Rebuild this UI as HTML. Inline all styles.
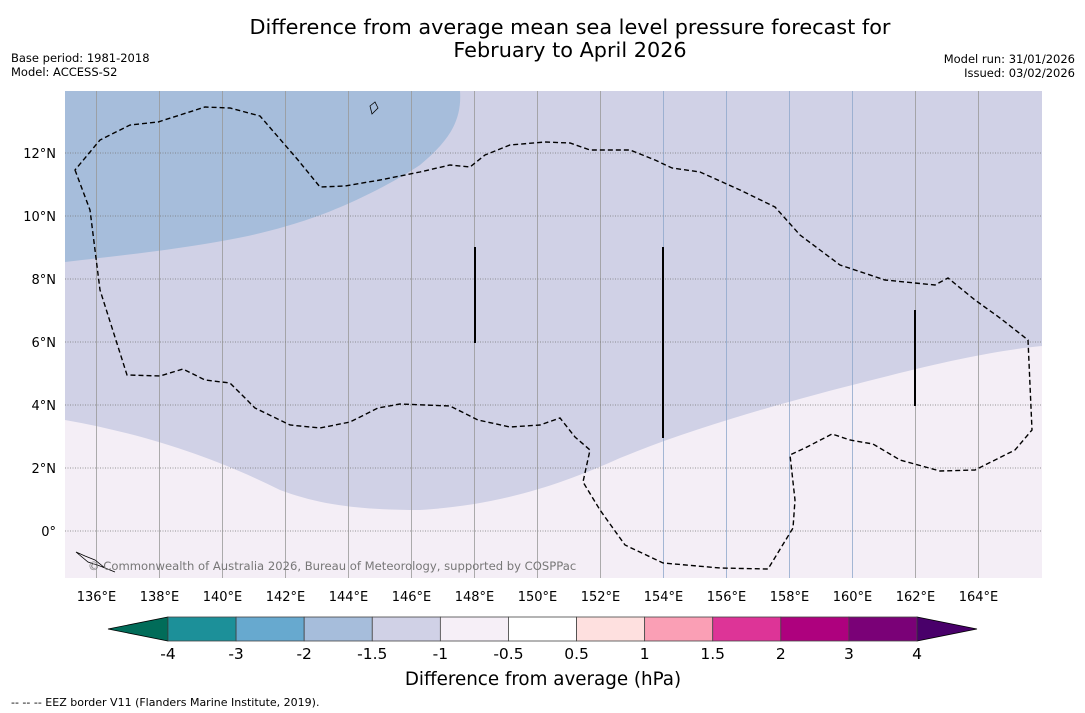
<!DOCTYPE html>
<html><head><meta charset="utf-8"><style>
body{margin:0;background:#fff;width:1085px;height:713px;overflow:hidden;font-family:"DejaVu Sans","Liberation Sans",sans-serif}
svg{position:absolute;left:0;top:0}
</style></head><body>
<svg width="1085" height="713" font-family="DejaVu Sans, Liberation Sans, sans-serif">
<text x="570" y="34" font-size="20.8" text-anchor="middle">Difference from average mean sea level pressure forecast for</text>
<text x="570" y="57" font-size="20.8" text-anchor="middle">February to April 2026</text>
<text x="11" y="62" font-size="11.5">Base period: 1981-2018</text>
<text x="11" y="76" font-size="11.5">Model: ACCESS-S2</text>
<text x="1075" y="63" font-size="11.5" text-anchor="end">Model run: 31/01/2026</text>
<text x="1075" y="77" font-size="11.5" text-anchor="end">Issued: 03/02/2026</text>
<defs><clipPath id="mc"><rect x="65" y="91" width="977" height="487"/></clipPath></defs>
<g clip-path="url(#mc)">
<rect x="65" y="91" width="977" height="487" fill="#d0d1e6"/>
<path d="M65,91 L460,91 C462,120 450,140 420,165 C390,185 340,210 300,222 C250,238 200,247 65,262 Z" fill="#a6bddb"/>
<path d="M65,420 C150,435 220,460 280,490 C320,505 360,510 420,510 C500,505 560,485 620,458 C700,425 800,398 880,378 C950,360 1000,350 1042,346 L1042,578 L65,578 Z" fill="#f4eef6"/>
<g id="grid"></g>
<path d="M75,170 L90,210 L100,290 L127,375 L160,376 L183,369 L205,380 L230,383 L255,408 L290,425 L320,428 L350,422 L378,408 L400,404 L450,406 L478,420 L510,427 L540,425 L560,418 L575,437 L590,450 L583,482 L600,510 L625,545 L663,563 L720,568 L768,569 L793,528 L795,500 L790,455 L805,448 L832,434 L850,440 L873,444 L900,460 L940,471 L975,470 L1015,450 L1032,430 L1028,340 L1000,318 L975,300 L948,278 L935,285 L885,280 L840,265 L800,235 L775,207 L740,190 L700,172 L672,168 L655,160 L630,150 L590,150 L570,143 L545,142 L510,145 L485,155 L470,167 L450,165 L420,172 L380,180 L345,186 L320,187 L298,160 L260,116 L230,108 L205,107 L180,115 L158,122 L130,125 L100,140 Z" fill="none" stroke="#000" stroke-width="1.4" stroke-dasharray="5,3"/>
<line x1="475" y1="247" x2="475" y2="343" stroke="#000" stroke-width="2"/>
<line x1="663" y1="247" x2="663" y2="438" stroke="#000" stroke-width="2"/>
<line x1="915" y1="310" x2="915" y2="406" stroke="#000" stroke-width="2"/>
<path d="M76,552 L85,556 L95,560 L105,568 L115,572 L100,566 L88,562 Z" fill="none" stroke="#000" stroke-width="0.8"/>
<path d="M370,106 L375,102 L378,108 L372,114 Z" fill="none" stroke="#000" stroke-width="0.8"/>
<text x="88" y="570" font-size="11.6" fill="#777">© Commonwealth of Australia 2026, Bureau of Meteorology, supported by COSPPac</text>
</g>
<g id="ticks" font-size="13"></g>
<g id="cbar"></g>
<text x="543" y="685" font-size="18.3" text-anchor="middle">Difference from average (hPa)</text>
<text x="11" y="706" font-size="11">--  --  -- EEZ border V11 (Flanders Marine Institute, 2019).</text>
</svg>
<script>
const lonTicks=[136,138,140,142,144,146,148,150,152,154,156,158,160,162,164];
const latTicks=[12,10,8,6,4,2,0];
const latLabels=["12°N","10°N","8°N","6°N","4°N","2°N","0°"];
const cbarLevels=["-4","-3","-2","-1.5","-1","-0.5","0.5","1","1.5","2","3","4"];
const cbarColors=["#1c9099","#67a9cf","#a6bddb","#d0d1e6","#f6eff7","#ffffff","#fee0df","#fa9fb5","#dd3497","#ae017e","#7a0177"];
const NS="http://www.w3.org/2000/svg";
const xL=lon=>65+(lon-135)*31.5;
const yL=lat=>531-lat*31.5;
function mk(t,a,p){const e=document.createElementNS(NS,t);for(const k in a)e.setAttribute(k,a[k]);p.appendChild(e);return e;}
const g=document.getElementById('grid'),tk=document.getElementById('ticks'),cb=document.getElementById('cbar');
lonTicks.forEach(l=>{const x=xL(l);
 const ln=mk('line',{x1:x,y1:91,x2:x,y2:578,stroke:(l>=154&&l<=160)?'#8fa8cc':'#999','stroke-width':0.8},g);
 
 
 const t=mk('text',{x:x,y:601,'text-anchor':'middle'},tk);t.textContent=l+'°E';
 
 });
latTicks.forEach((l,i)=>{const y=yL(l);
 const ln=mk('line',{x1:65,y1:y,x2:1042,y2:y,stroke:'#777','stroke-width':0.8,'stroke-dasharray':'1,1.5'},g);
 
 
 const t=mk('text',{x:56,y:y+5,'text-anchor':'end'},tk);t.textContent=latLabels[i];
 
 });
const x0=168,x1=917,w=(x1-x0)/cbarColors.length,cy=617,ch=24;
let tri=mk('polygon',{points:`${x0},${cy} ${x0},${cy+ch} 108,${cy+ch/2}`,fill:'#016c59',stroke:'#000','stroke-width':0.8},cb);


tri=mk('polygon',{points:`${x1},${cy} ${x1},${cy+ch} 977,${cy+ch/2}`,fill:'#49006a',stroke:'#000','stroke-width':0.8},cb);


cbarColors.forEach((c,i)=>{const r=mk('rect',{x:x0+i*w,y:cy,width:w,height:ch,fill:c,stroke:'#444','stroke-width':0.8},cb);
 
 });
cbarLevels.forEach((s,i)=>{const t=mk('text',{x:x0+i*w,y:659,'text-anchor':'middle','font-size':15.5},cb);t.textContent=s;
 
 });
</script>
</body></html>
